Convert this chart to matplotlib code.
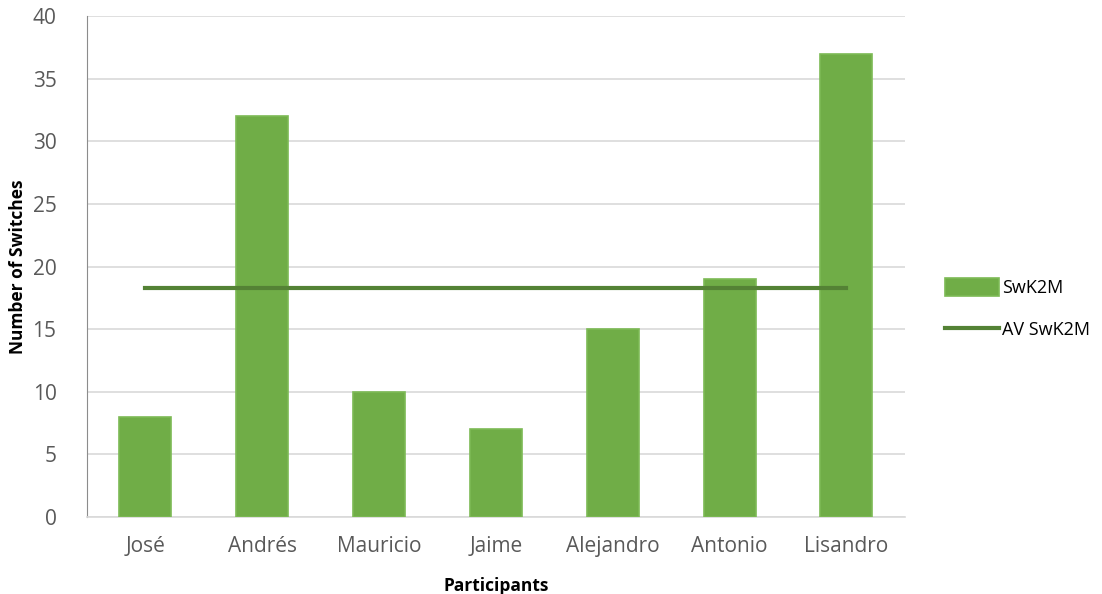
import matplotlib

matplotlib.use("Agg")
import matplotlib.pyplot as plt
import numpy as np

participants = ["José", "Andrés", "Mauricio", "Jaime", "Alejandro", "Antonio", "Lisandro"]
switches = [8, 32, 10, 7, 15, 19, 37]
average = np.mean(switches)
y_ticks = [0, 5, 10, 15, 20, 25, 30, 35, 40]

plt.rcParams["font.family"] = ["Open Sans", "DejaVu Sans"]

fig = plt.figure(figsize=(11.02, 5.94), dpi=100)
ax = fig.add_axes([0.079, 0.1296, 0.742, 0.8434])

x = np.arange(len(participants))
bars = ax.bar(x, switches, width=0.445, color="#70ad47", edgecolor="#7dba55", linewidth=1.2,
              label="SwK2M", zorder=3)
(avg_line,) = ax.plot([x[0], x[-1]], [average, average], color="#548235", linewidth=3,
                      label="AV SwK2M", zorder=4)

ax.set_xlim(-0.5, len(participants) - 0.5)
ax.set_ylim(0, 40)
ax.set_yticks(y_ticks)
ax.set_xticks(x)
ax.set_xticklabels(participants)
ax.tick_params(axis="both", length=0, labelsize=15, colors="#595959")
ax.tick_params(axis="x", pad=14)
ax.tick_params(axis="y", pad=22)
ax.grid(axis="y", color="#d9d9d9", linewidth=1.2, zorder=0)
for side in ("top", "right"):
    ax.spines[side].set_visible(False)
ax.spines["left"].set_color("#8c8c8c")
ax.spines["bottom"].set_color("#d9d9d9")
ax.spines["bottom"].set_linewidth(1.2)

ax.set_xlabel("Participants", fontsize=12.5, fontweight="bold", labelpad=14)
ax.set_ylabel("Number of Switches", fontsize=12.5, fontweight="bold")
ax.yaxis.set_label_coords(-0.074, 0.5)

fig.legend([bars, avg_line], ["SwK2M", "AV SwK2M"], loc="center left",
           bbox_to_anchor=(0.8575, 0.48), frameon=False, fontsize=13,
           borderpad=0, borderaxespad=0,
           handlelength=3.0, handleheight=1.1, handletextpad=0.15, labelspacing=1.3)

fig.savefig("out.png", dpi=100)
